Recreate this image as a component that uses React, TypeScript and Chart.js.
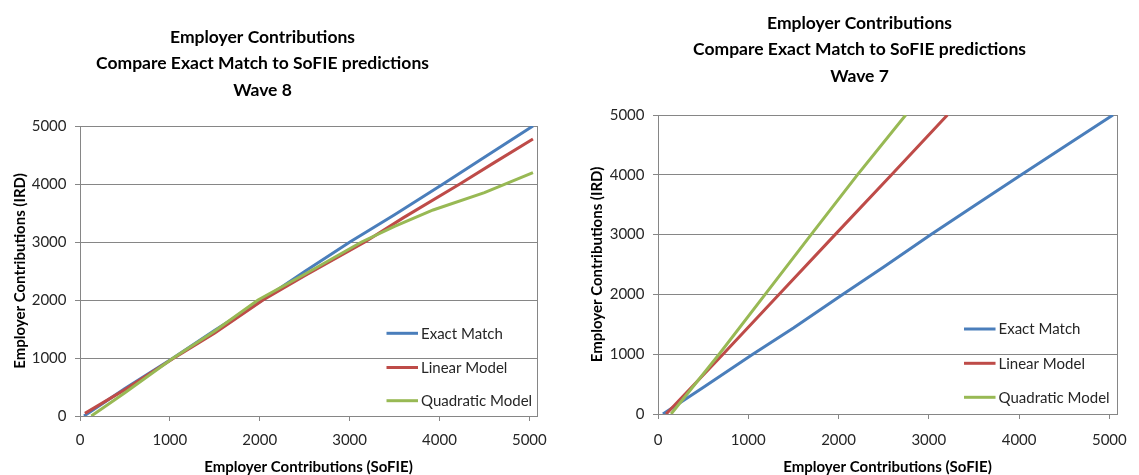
import React, { useEffect, useRef } from 'react';
import { Chart, registerables } from 'chart.js';

Chart.register(...registerables);

// ---------- data ----------
const SERIES_NAMES = ['Exact Match', 'Linear Model', 'Quadratic Model'];
const SERIES_COLORS = ['#4A7EBB', '#BE4B48', '#98B954'];
const AXIS_TICKS = [0, 1000, 2000, 3000, 4000, 5000];
const X_TITLE = 'Employer Contributions (SoFIE)';
const Y_TITLE = 'Employer Contributions (IRD)';
const TITLE_W8 = ['Employer Contributions', 'Compare Exact Match to SoFIE predictions', 'Wave 8'];
const TITLE_W7 = ['Employer Contributions', 'Compare Exact Match to SoFIE predictions', 'Wave 7'];

// Wave 8: [SoFIE, IRD]
const w8Exact = [[45, 0], [500, 475], [1037, 1000], [1500, 1480], [2000, 1970], [2500, 2490], [3003, 3000], [3500, 3470], [4040, 4000], [4500, 4460], [5040, 5000]];
const w8Linear = [[55, 45], [500, 455], [1037, 990], [1500, 1430], [2037, 2000], [2500, 2420], [3170, 3000], [3600, 3420], [4226, 4000], [4600, 4360], [5040, 4776]];
const w8Quadratic = [[126, 0], [500, 400], [1037, 1000], [1500, 1465], [1981, 2000], [2500, 2445], [3133, 3000], [3500, 3270], [3929, 3552], [4500, 3850], [5040, 4195]];

// Wave 7: [SoFIE, IRD]
const w7Exact = [[55, 0], [500, 445], [1050, 1000], [1500, 1440], [2045, 2000], [2500, 2460], [3024, 3000], [3500, 3480], [4025, 4000], [4500, 4470], [5040, 5000]];
const w7Linear = [[90, 0], [720, 1000], [1340, 2000], [1962, 3000], [2587, 4000], [3206, 5000]];
const w7Quadratic = [[145, 0], [677, 1000], [1187, 2000], [1696, 3000], [2209, 4000], [2744, 5000]];

const X_MAX = 5085;
const Y_MAX = 5000;

// ---------- styling ----------
const FONT = 'Lato, "Open Sans", sans-serif';
const TEXT = '#262626';
const GRID = '#868686';

const toPts = (arr: number[][]) => arr.map(([x, y]) => ({ x, y }));

const titlePlugin = {
  id: 'multiTitle',
  afterDraw(chart: any, _args: any, opts: any) {
    const { ctx } = chart;
    ctx.save();
    ctx.font = `bold ${opts.size}px ${FONT}`;
    ctx.fillStyle = '#000';
    ctx.textAlign = 'center';
    ctx.textBaseline = 'middle';
    opts.lines.forEach((t: string, i: number) => {
      ctx.fillText(t, opts.x, opts.y + i * opts.gap);
    });
    ctx.restore();
  },
};

const frameLegendPlugin = {
  id: 'frameLegend',
  beforeDatasetsDraw(chart: any) {
    const { ctx, chartArea: a } = chart;
    ctx.save();
    ctx.strokeStyle = GRID;
    ctx.lineWidth = 1;
    ctx.strokeRect(Math.round(a.left) + 0.5, Math.round(a.top) + 0.5, Math.round(a.right - a.left), Math.round(a.bottom - a.top));
    ctx.restore();
  },
  afterDraw(chart: any, _args: any, opts: any) {
    const { ctx, chartArea: a } = chart;
    ctx.save();
    ctx.font = `15px ${FONT}`;
    ctx.textBaseline = 'middle';
    ctx.textAlign = 'left';
    chart.data.datasets.forEach((ds: any, i: number) => {
      const y = a.bottom - opts.rows[i];
      const x0 = a.right - opts.fromRight;
      ctx.strokeStyle = ds.borderColor;
      ctx.lineWidth = 3;
      ctx.beginPath();
      ctx.moveTo(x0, y);
      ctx.lineTo(x0 + opts.lineLen, y);
      ctx.stroke();
      ctx.fillStyle = TEXT;
      ctx.fillText(ds.label, x0 + opts.lineLen + 3, y + 0.5);
    });
    ctx.restore();
  },
};

type Cfg = {
  series: number[][][];
  title: string[];
  titleX: number;
  titleY: number;
  padTop: number;
  padRight: number;
  yWidth: number;
  xHeight: number;
  yTitlePad: number;
  xTickPad: number;
  legendFromRight: number;
  legendRows: number[];
};

function EmployerChart({ cfg, width, height, left }: { cfg: Cfg; width: number; height: number; left: number }) {
  const ref = useRef<HTMLCanvasElement | null>(null);
  useEffect(() => {
    if (!ref.current) return;
    const chart = new Chart(ref.current, {
      type: 'line',
      data: {
        datasets: cfg.series.map((s, i) => ({
          label: SERIES_NAMES[i],
          data: toPts(s),
          borderColor: SERIES_COLORS[i],
          backgroundColor: SERIES_COLORS[i],
          borderWidth: 3,
          pointRadius: 0,
          tension: 0,
          fill: false,
          order: SERIES_NAMES.length - i,
        })),
      },
      options: {
        animation: false,
        responsive: false,
        maintainAspectRatio: false,
        layout: { padding: { left: 0, right: cfg.padRight, top: cfg.padTop, bottom: 0 } },
        plugins: {
          legend: { display: false },
          title: { display: false },
          tooltip: { enabled: false },
          multiTitle: { lines: cfg.title, x: cfg.titleX, y: cfg.titleY, gap: 26.5, size: 17.5 },
          frameLegend: { fromRight: cfg.legendFromRight, rows: cfg.legendRows, lineLen: 31.5 },
        } as any,
        scales: {
          x: {
            type: 'linear',
            min: 0,
            max: X_MAX,
            afterBuildTicks: (s: any) => { s.ticks = AXIS_TICKS.map((v) => ({ value: v })); },
            afterFit: (s: any) => { s.height = cfg.xHeight; },
            ticks: {
              includeBounds: false,
              callback: (v: any) => String(v),
              color: TEXT,
              font: { family: FONT, size: 15 },
              padding: cfg.xTickPad,
              maxRotation: 0,
            },
            grid: { drawOnChartArea: false, drawTicks: true, tickLength: 5, color: GRID },
            border: { display: true, color: GRID },
            title: {
              display: true,
              text: X_TITLE,
              color: '#000',
              font: { family: FONT, size: 15, weight: 'bold', lineHeight: 1 },
              padding: { top: 0, bottom: 0 },
            },
          },
          y: {
            type: 'linear',
            min: 0,
            max: Y_MAX,
            afterBuildTicks: (s: any) => { s.ticks = AXIS_TICKS.map((v) => ({ value: v })); },
            afterFit: (s: any) => { s.width = cfg.yWidth; },
            ticks: {
              callback: (v: any) => String(v),
              color: TEXT,
              font: { family: FONT, size: 15 },
              padding: 8.5,
            },
            grid: { drawOnChartArea: true, drawTicks: true, tickLength: 5, color: GRID },
            border: { display: true, color: GRID },
            title: {
              display: true,
              text: Y_TITLE,
              color: '#000',
              font: { family: FONT, size: 15, weight: 'bold', lineHeight: 1 },
              padding: { top: cfg.yTitlePad, bottom: 0 },
            },
          },
        },
      } as any,
      plugins: [titlePlugin, frameLegendPlugin],
    });
    return () => chart.destroy();
  }, [cfg]);
  return (
    <canvas
      ref={ref}
      width={width}
      height={height}
      style={{ position: 'absolute', left, top: 0, width, height }}
    />
  );
}

const CFG_W8: Cfg = {
  series: [w8Exact, w8Linear, w8Quadratic],
  title: TITLE_W8,
  titleX: 262.5,
  titleY: 37,
  padTop: 126,
  padRight: 32,
  yWidth: 80,
  xHeight: 59,
  yTitlePad: 12.5,
  xTickPad: 10,
  legendFromRight: 150.5,
  legendRows: [82.7, 48.5, 15.3],
};

const CFG_W7: Cfg = {
  series: [w7Exact, w7Linear, w7Quadratic],
  title: TITLE_W7,
  titleX: 290.5,
  titleY: 23,
  padTop: 115,
  padRight: 15,
  yWidth: 89,
  xHeight: 61,
  yTitlePad: 20.5,
  xTickPad: 12,
  legendFromRight: 153,
  legendRows: [85, 50.7, 16.7],
};

export default function App() {
  return (
    <div style={{ position: 'fixed', left: 0, top: 0, width: 1139, height: 475, overflow: 'hidden', background: '#fff' }}>
      <EmployerChart cfg={CFG_W8} width={569} height={475} left={0} />
      <EmployerChart cfg={CFG_W7} width={570} height={475} left={569} />
    </div>
  );
}
